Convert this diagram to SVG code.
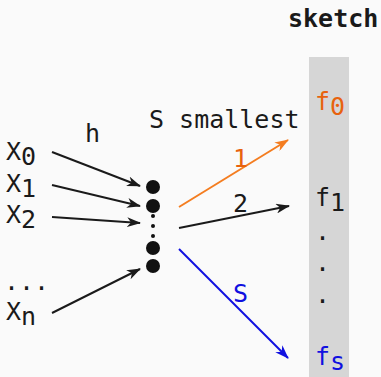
<svg xmlns="http://www.w3.org/2000/svg" width="381" height="377" viewBox="0 0 381 377">
<defs>
<style>
text{font-family:"DejaVu Sans Mono","Liberation Mono",monospace;font-size:25px;fill:#1a1a1a}
.b{font-weight:bold}
.or{fill:#e8620e}
.bl{fill:#1010e0}
.ln{fill:none;stroke-width:2}
</style>
<marker id="ak" markerUnits="userSpaceOnUse" viewBox="0 0 14 10" refX="13" refY="5" markerWidth="14" markerHeight="10" orient="auto"><path d="M0,0 L14,5 L0,10 L4,5 z" fill="#1a1a1a"/></marker>
<marker id="ao" markerUnits="userSpaceOnUse" viewBox="0 0 14 10" refX="13" refY="5" markerWidth="14" markerHeight="10" orient="auto"><path d="M0,0 L14,5 L0,10 L4,5 z" fill="#f47d20"/></marker>
<marker id="ab" markerUnits="userSpaceOnUse" viewBox="0 0 14 10" refX="13" refY="5" markerWidth="14" markerHeight="10" orient="auto"><path d="M0,0 L14,5 L0,10 L4,5 z" fill="#1010e0"/></marker>
</defs>
<rect width="381" height="377" fill="#fafafa"/>
<g id="sketch">
<rect x="309" y="57" width="40" height="320" fill="#d6d6d6"/>
<text class="b" x="288" y="27">sketch</text>
<text class="or" x="315" y="110">f<tspan dy="5">0</tspan></text>
<text x="315" y="206">f<tspan dy="5">1</tspan></text>
<text x="315" y="240">.</text>
<text x="315" y="271">.</text>
<text x="315" y="303">.</text>
<text class="bl" x="315" y="365">f<tspan dy="5">s</tspan></text>
</g>
<g id="inputs">
<text x="6" y="160">X<tspan dy="5">0</tspan></text>
<text x="6" y="192">X<tspan dy="5">1</tspan></text>
<text x="6" y="223">X<tspan dy="5">2</tspan></text>
<text x="4" y="290">...</text>
<text x="6" y="320">X<tspan dy="5">n</tspan></text>
<text x="85" y="142">h</text>
</g>
<g id="smallest">
<circle cx="153" cy="187" r="7" fill="#111"/>
<circle cx="153" cy="206" r="7" fill="#111"/>
<circle cx="153" cy="216" r="2" fill="#111"/>
<circle cx="153" cy="226" r="2" fill="#111"/>
<circle cx="153" cy="236" r="2" fill="#111"/>
<circle cx="153" cy="248" r="7" fill="#111"/>
<circle cx="153" cy="266" r="7" fill="#111"/>
<text x="149" y="128">S smallest</text>
</g>
<g id="connectors">
<line class="ln" stroke="#1a1a1a" x1="52" y1="152" x2="140" y2="186" marker-end="url(#ak)"/>
<line class="ln" stroke="#1a1a1a" x1="52" y1="185" x2="140" y2="206" marker-end="url(#ak)"/>
<line class="ln" stroke="#1a1a1a" x1="52" y1="217" x2="140" y2="223" marker-end="url(#ak)"/>
<line class="ln" stroke="#1a1a1a" x1="52" y1="313" x2="140" y2="269" marker-end="url(#ak)"/>
<line class="ln" stroke="#f47d20" x1="179" y1="207" x2="288" y2="140" marker-end="url(#ao)"/>
<line class="ln" stroke="#1a1a1a" x1="179" y1="228" x2="289" y2="206" marker-end="url(#ak)"/>
<line class="ln" stroke="#1010e0" x1="179" y1="249" x2="288" y2="358" marker-end="url(#ab)"/>
<text class="or" x="233" y="167">1</text>
<text x="233" y="212">2</text>
<text class="bl" x="233" y="302">S</text>
</g>
</svg>
